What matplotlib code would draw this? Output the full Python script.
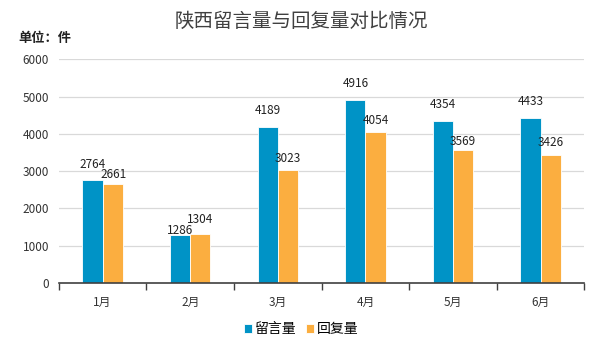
import numpy as np
import matplotlib
matplotlib.use("Agg")
import matplotlib.pyplot as plt

plt.rcParams['font.family'] = ['Noto Sans CJK SC', 'DejaVu Sans']

# data
months = ["1月", "2月", "3月", "4月", "5月", "6月"]
messages = [2764, 1286, 4189, 4916, 4354, 4433]
replies = [2661, 1304, 3023, 4054, 3569, 3426]
series_names = ["留言量", "回复量"]

BLUE = "#0093c6"
ORANGE = "#fbae40"

fig = plt.figure(figsize=(6, 3.49), dpi=100)
ax = fig.add_axes([0.098, 0.189, 0.876, 0.641])

x = np.arange(len(months))
w = 0.23
b1 = ax.bar(x - w / 2, messages, w, color=BLUE, edgecolor="white", linewidth=0.6, label=series_names[0], zorder=3)
b2 = ax.bar(x + w / 2, replies, w, color=ORANGE, edgecolor="white", linewidth=0.6, label=series_names[1], zorder=3)

# label offsets in points (Excel labels were nudged by hand)
blue_shift = [11.5, 3.5, 12, 12, 12, 12]
orange_shift = [7, 11, 8.5, 8.5, 6, 9.5]
for i in range(len(months)):
    ax.annotate(str(messages[i]), (x[i] - w / 2, messages[i]), xytext=(0, blue_shift[i]),
                textcoords="offset points", ha="center", va="center", fontsize=8.5, color="#222222")
    ax.annotate(str(replies[i]), (x[i] + w / 2, replies[i]), xytext=(1 if i == 0 else 0, orange_shift[i]),
                textcoords="offset points", ha="center", va="center", fontsize=8.5, color="#222222")

ax.set_ylim(0, 6000)
ax.set_xlim(-0.5, len(months) - 0.5)
ax.set_yticks(range(0, 6001, 1000))
ax.yaxis.grid(True, color="#d9d9d9", linewidth=0.9, zorder=0)
ax.tick_params(axis="y", length=0, pad=7, labelsize=8.5, labelcolor="#333333")

ax.set_xticks(np.arange(-0.5, len(months), 1))
ax.set_xticklabels([])
ax.tick_params(axis="x", which="major", length=5, width=1, color="#404040", direction="out")
ax.set_xticks(x, minor=True)
ax.set_xticklabels(months, minor=True, fontsize=8.5, color="#333333")
ax.tick_params(axis="x", which="minor", length=0, pad=9)

for s in ["left", "right", "top"]:
    ax.spines[s].set_visible(False)
ax.spines["bottom"].set_color("#404040")
ax.spines["bottom"].set_linewidth(1.2)
ax.spines["bottom"].set_zorder(4)

fig.text(0.502, 0.94, "陕西留言量与回复量对比情况", ha="center", va="center",
         fontsize=14, color="#404040", fontweight="light")
fig.text(0.03, 0.892, "单位：件", ha="left", va="center", fontsize=9.5, color="#222222", fontweight="bold")

fig.legend(handles=[b1, b2], loc="center", bbox_to_anchor=(0.502, 0.057), ncol=2, frameon=False,
           fontsize=10, handlelength=0.6, handleheight=0.6, handletextpad=0.2, columnspacing=0.7)

fig.savefig("out.png", dpi=100)
